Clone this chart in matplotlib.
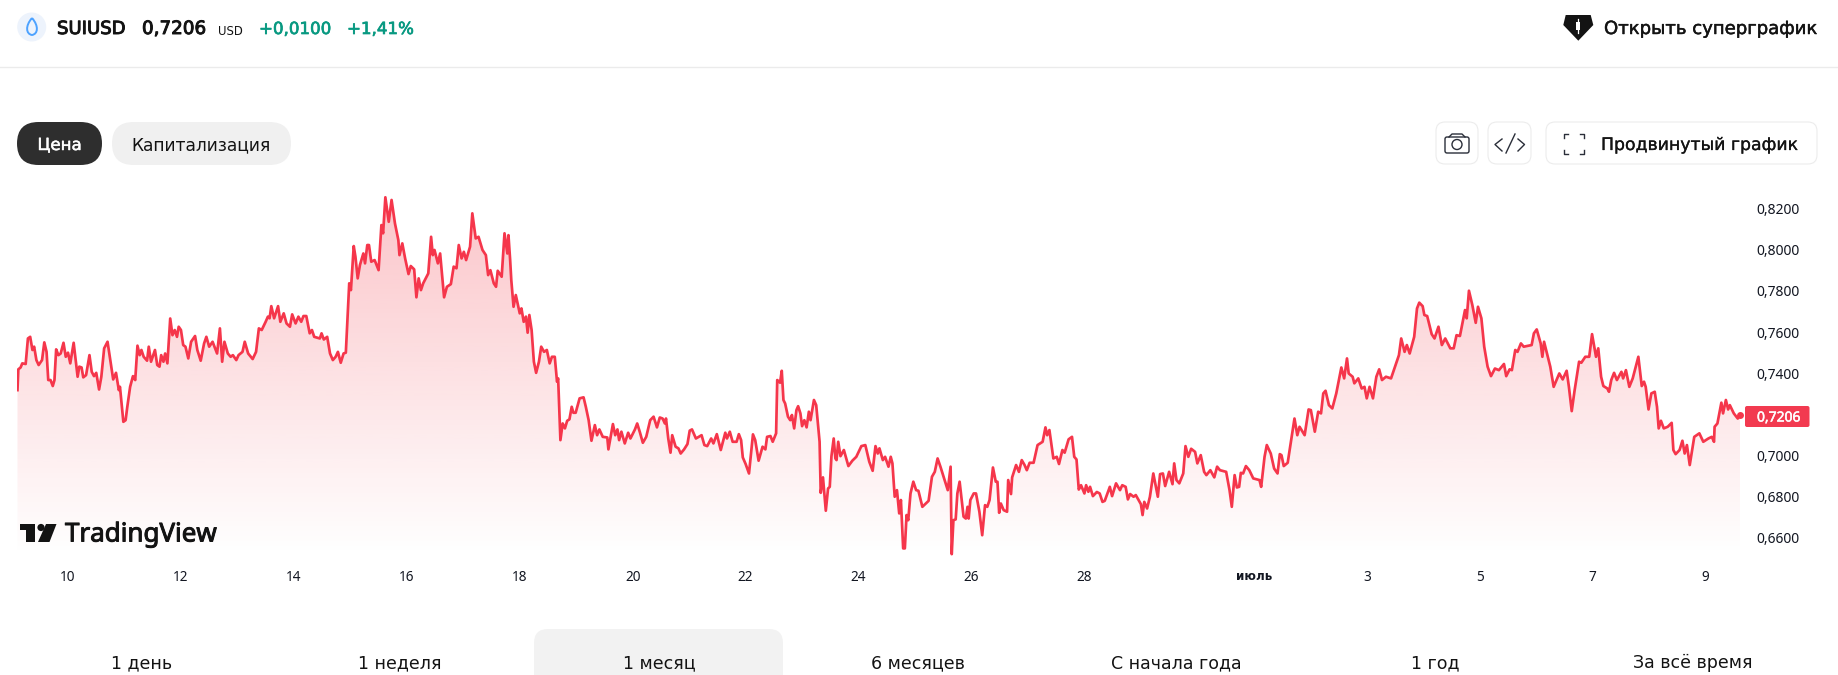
import numpy as np
import matplotlib
matplotlib.use("Agg")
import matplotlib.pyplot as plt
import matplotlib.patheffects as pe
from matplotlib.patches import FancyBboxPatch, Polygon, Circle, Rectangle, PathPatch
from matplotlib.path import Path
from matplotlib.transforms import ScaledTranslation

plt.rcParams['font.family'] = ['Noto Sans', 'DejaVu Sans']

# (day of the count starting in June, price); 1 July is day 31
prices_june_9_to_14 = [
(9.105,.7325),(9.12,.7426),(9.16,.7435),(9.19,.7455),(9.25,.7452),(9.29,.7576),(9.33,.7584),(9.37,.7520),(9.40,.7536),(9.44,.7471),
(9.48,.7447),(9.54,.7471),(9.58,.7557),(9.62,.7511),(9.65,.7374),(9.69,.7374),(9.73,.7345),(9.76,.7374),(9.79,.7523),(9.83,.7495),
(9.87,.7503),(9.92,.7555),(9.96,.7487),(10.00,.7507),(10.04,.7455),(10.10,.7555),(10.17,.7390),(10.20,.7439),(10.24,.7435),(10.27,.7387),
(10.32,.7398),(10.38,.7495),(10.42,.7414),(10.46,.7393),(10.50,.7409),(10.55,.7328),(10.59,.7390),(10.64,.7528),(10.70,.7560),(10.74,.7487),
(10.80,.7377),(10.85,.7409),(10.90,.7325),(10.92,.7341),(10.98,.7171),(11.02,.7179),(11.05,.7244),(11.10,.7341),(11.15,.7393),(11.19,.7374),
(11.23,.7541),(11.27,.7495),(11.30,.7520),(11.34,.7487),(11.40,.7468),(11.43,.7536),(11.47,.7463),(11.54,.7520),(11.58,.7447),(11.62,.7439),
(11.65,.7495),(11.69,.7463),(11.72,.7503),(11.76,.7455),(11.81,.7673),(11.85,.7592),(11.89,.7617),(11.93,.7584),(11.96,.7633),(12.00,.7617),
(12.04,.7544),(12.08,.7536),(12.13,.7479),(12.18,.7560),(12.25,.7588),(12.29,.7520),(12.35,.7468),(12.41,.7552),(12.45,.7584),(12.50,.7536),
(12.56,.7560),(12.64,.7503),(12.69,.7625),(12.73,.7463),(12.77,.7560),(12.83,.7503),(12.88,.7487),(12.92,.7495),(12.98,.7471),(13.02,.7495),
(13.09,.7511),(13.13,.7560),(13.19,.7503),(13.27,.7476),(13.33,.7511),(13.38,.7625),(13.43,.7617),(13.50,.7657),(13.54,.7682),(13.57,.7674),
(13.60,.7733),(13.65,.7674),(13.72,.7733),(13.76,.7657),(13.82,.7698),(13.87,.7649),(13.93,.7633),(13.97,.7693),(14.03,.7649),(14.08,.7682),
(14.13,.7657),(14.17,.7685),(14.22,.7685),(14.28,.7601),(14.32,.7617),(14.36,.7584),(14.46,.7576),(14.49,.7601),(14.53,.7571),(14.59,.7584),
(14.64,.7503),(14.69,.7471),(14.74,.7487),(14.78,.7511),(14.83,.7458),(14.88,.7503),(14.92,.7507),
]
prices_june_15_to_19 = [
(14.98,.7844),(15.01,.7811),(15.06,.8025),(15.09,.7973),(15.13,.7868),(15.17,.7933),(15.23,.7989),(15.26,.7941),(15.30,.8030),(15.33,.8030),
(15.37,.7949),(15.43,.7957),(15.50,.7908),(15.55,.8127),(15.58,.8087),(15.62,.8262),(15.68,.8143),(15.73,.8249),(15.79,.8135),(15.85,.8054),
(15.87,.7981),(15.92,.8038),(15.97,.7965),(16.03,.7889),(16.07,.7928),(16.13,.7912),(16.17,.7776),(16.21,.7868),(16.25,.7811),(16.29,.7844),
(16.38,.7892),(16.43,.8070),(16.46,.7981),(16.49,.8006),(16.55,.7941),(16.59,.7989),(16.66,.7776),(16.71,.7827),(16.78,.7840),(16.83,.7925),
(16.88,.7917),(16.92,.8030),(16.97,.7965),(17.01,.7997),(17.05,.7957),(17.12,.8022),(17.16,.8184),(17.22,.8062),(17.27,.8070),(17.34,.8006),
(17.40,.7981),(17.44,.7884),(17.48,.7908),(17.54,.7844),(17.58,.7827),(17.61,.7905),(17.68,.7876),(17.73,.8087),(17.78,.7989),(17.80,.8078),
(17.83,.7957),(17.85,.7860),(17.89,.7730),(17.93,.7787),(18.00,.7698),(18.03,.7722),(18.07,.7657),(18.11,.7682),(18.14,.7604),(18.17,.7690),
(18.21,.7617),(18.25,.7463),(18.29,.7409),(18.34,.7463),(18.38,.7536),(18.43,.7511),(18.48,.7520),(18.53,.7455),(18.57,.7487),(18.62,.7487),
(18.66,.7366),(18.68,.7382),(18.72,.7082),(18.76,.7163),(18.80,.7139),(18.84,.7176),(18.88,.7183),(18.92,.7244),(18.95,.7215),(18.99,.7215),
(19.06,.7285),(19.13,.7290),(19.17,.7244),(19.22,.7179),(19.27,.7079),(19.33,.7155),(19.37,.7106),(19.41,.7134),(19.47,.7098),(19.55,.7095),
(19.57,.7037),(19.65,.7160),(19.69,.7106),(19.73,.7134),
]
prices_june_20_to_24 = [
(19.76,.7082),(19.80,.7123),(19.86,.7066),(19.92,.7118),(19.96,.7090),(20.04,.7134),(20.08,.7163),(20.13,.7118),(20.18,.7069),(20.24,.7098),
(20.31,.7179),(20.37,.7196),(20.43,.7144),(20.48,.7192),(20.53,.7187),(20.57,.7163),(20.59,.7187),(20.63,.7090),(20.67,.7021),(20.70,.7106),
(20.76,.7050),(20.81,.7042),(20.85,.7017),(20.91,.7037),(20.97,.7063),(21.01,.7128),(21.05,.7134),(21.12,.7090),(21.22,.7106),(21.27,.7058),
(21.32,.7053),(21.39,.7090),(21.43,.7066),(21.49,.7111),(21.56,.7034),(21.64,.7118),(21.67,.7090),(21.72,.7123),(21.77,.7074),(21.84,.7074),
(21.88,.7111),(21.92,.7082),(21.95,.6998),(22.00,.6966),(22.06,.6920),(22.13,.7110),(22.17,.7082),(22.23,.6982),(22.30,.7050),(22.35,.7037),
(22.38,.7098),(22.44,.7102),(22.48,.7074),(22.54,.7115),(22.56,.7374),(22.61,.7361),(22.64,.7419),(22.67,.7277),(22.70,.7260),(22.75,.7196),
(22.79,.7179),(22.82,.7204),(22.86,.7139),(22.90,.7228),(22.93,.7247),(22.97,.7212),(23.00,.7150),(23.04,.7179),(23.08,.7144),(23.12,.7220),
(23.15,.7179),(23.21,.7277),(23.25,.7252),(23.31,.7074),(23.33,.6826),(23.37,.6901),(23.42,.6739),(23.46,.6847),(23.49,.6855),(23.52,.7004),
(23.56,.7090),(23.59,.6993),(23.61,.6985),(23.64,.7074),(23.68,.7004),(23.74,.7034),(23.82,.6956),(23.89,.6982),(23.96,.7001),(24.05,.7053),
(24.12,.7058),(24.19,.6977),(24.25,.6933),(24.30,.7053),(24.34,.7017),(24.37,.7042),(24.43,.6985),(24.47,.7001),(24.53,.6953),(24.57,.7001),
(24.60,.6969),(24.64,.6807),(24.68,.6839),(24.72,.6726),(24.75,.6791),(24.79,.6556),(24.82,.6556),(24.85,.6718),(24.88,.6693),(24.92,.6823),
(24.97,.6880),
]
prices_june_25_to_30 = [
(25.02,.6839),(25.06,.6836),(25.13,.6758),(25.24,.6787),(25.30,.6904),(25.35,.6928),(25.40,.6993),(25.45,.6953),(25.51,.6901),(25.58,.6839),
(25.63,.6953),(25.65,.6528),(25.68,.6693),(25.72,.6697),(25.75,.6823),(25.79,.6880),(25.86,.6710),(25.90,.6701),(25.93,.6758),(25.95,.6701),
(25.98,.6791),(26.04,.6823),(26.08,.6823),(26.14,.6734),(26.19,.6620),(26.24,.6766),(26.28,.6758),(26.32,.6791),(26.38,.6949),(26.43,.6880),
(26.46,.6880),(26.49,.6729),(26.52,.6774),(26.57,.6742),(26.63,.6734),(26.65,.6888),(26.70,.6820),(26.72,.6901),(26.79,.6961),(26.84,.6928),
(26.89,.6985),(26.94,.6961),(26.98,.6936),(27.03,.6972),(27.10,.6972),(27.17,.7058),(27.26,.7074),(27.31,.7144),(27.34,.7106),(27.38,.7131),
(27.45,.6993),(27.51,.7001),(27.55,.6966),(27.61,.7034),(27.65,.7021),(27.72,.7086),(27.78,.7098),(27.82,.7001),(27.86,.6988),(27.90,.6842),
(27.94,.6863),(28.00,.6823),(28.03,.6863),(28.07,.6831),(28.10,.6855),(28.15,.6810),(28.22,.6830),(28.27,.6823),(28.32,.6782),(28.36,.6787),
(28.45,.6855),(28.49,.6810),(28.56,.6872),(28.63,.6839),(28.67,.6863),(28.73,.6855),(28.77,.6794),(28.81,.6820),(28.87,.6807),(28.91,.6815),
(29.00,.6771),(29.03,.6718),(29.06,.6782),(29.11,.6750),(29.16,.6807),(29.22,.6920),(29.30,.6807),(29.34,.6917),(29.39,.6920),(29.43,.6859),
(29.50,.6928),(29.56,.6868),(29.59,.6969),(29.63,.6888),(29.68,.6872),(29.75,.6920),(29.79,.7053),(29.84,.7001),(29.89,.7040),(29.96,.7025),
(30.00,.6969),(30.06,.7009),(30.12,.6928),(30.16,.6912),(30.23,.6936),(30.30,.6901),(30.35,.6953),
]
prices_july_1_to_4 = [
(30.40,.6936),(30.51,.6928),(30.57,.6839),(30.61,.6758),(30.66,.6912),(30.70,.6852),(30.74,.6855),(30.77,.6923),(30.81,.6920),(30.86,.6956),
(30.92,.6936),(30.99,.6896),(31.10,.6888),(31.13,.6855),(31.19,.7001),(31.23,.7058),(31.30,.7017),(31.36,.6944),(31.42,.6920),(31.46,.7014),
(31.49,.7009),(31.53,.6956),(31.60,.6972),(31.67,.7098),(31.72,.7187),(31.77,.7106),(31.81,.7147),(31.90,.7106),(31.97,.7231),(32.01,.7228),
(32.08,.7123),(32.14,.7220),(32.19,.7212),(32.23,.7309),(32.27,.7322),(32.33,.7252),(32.39,.7236),(32.46,.7309),(32.55,.7435),(32.60,.7382),
(32.65,.7479),(32.68,.7406),(32.75,.7390),(32.78,.7358),(32.85,.7382),(32.91,.7333),(32.96,.7341),(33.00,.7285),(33.05,.7341),(33.11,.7285),
(33.17,.7390),(33.22,.7426),(33.27,.7374),(33.34,.7390),(33.43,.7382),(33.51,.7447),(33.57,.7495),(33.61,.7576),(33.67,.7511),(33.71,.7544),
(33.76,.7503),(33.84,.7584),(33.89,.7722),(33.93,.7750),(33.99,.7733),(34.02,.7690),(34.07,.7685),(34.15,.7597),(34.20,.7576),(34.27,.7633),
(34.33,.7544),(34.39,.7576),(34.48,.7528),(34.54,.7528),(34.59,.7592),(34.65,.7588),(34.74,.7714),(34.77,.7674),(34.81,.7808),(34.87,.7738),
(34.93,.7652),(34.97,.7730),
]
prices_july_5_to_9 = [
(35.03,.7674),(35.08,.7536),(35.14,.7439),(35.20,.7393),(35.27,.7430),(35.34,.7422),(35.43,.7452),(35.47,.7393),(35.53,.7426),(35.57,.7422),
(35.63,.7520),(35.67,.7511),(35.73,.7552),(35.78,.7536),(35.92,.7544),(35.96,.7601),(36.01,.7620),(36.08,.7552),(36.11,.7487),(36.14,.7560),
(36.25,.7439),(36.31,.7341),(36.41,.7406),(36.47,.7377),(36.54,.7419),(36.58,.7341),(36.63,.7223),(36.68,.7322),(36.76,.7463),(36.80,.7458),
(36.87,.7487),(36.94,.7487),(36.99,.7597),(37.06,.7487),(37.10,.7528),(37.15,.7390),(37.19,.7345),(37.26,.7333),(37.29,.7317),(37.33,.7374),
(37.38,.7409),(37.43,.7374),(37.51,.7414),(37.54,.7382),(37.59,.7422),(37.65,.7341),(37.71,.7382),(37.81,.7487),(37.87,.7345),(37.91,.7366),
(37.94,.7341),(37.99,.7231),(38.04,.7309),(38.10,.7317),(38.14,.7244),(38.17,.7139),(38.21,.7176),(38.26,.7139),(38.33,.7147),(38.40,.7166),
(38.43,.7034),(38.47,.7014),(38.54,.7034),(38.59,.7079),(38.63,.7017),(38.67,.7058),(38.72,.6961),(38.80,.7098),(38.89,.7115),(38.96,.7074),
(39.05,.7090),(39.11,.7098),(39.15,.7074),(39.16,.7147),(39.21,.7163),(39.28,.7264),(39.31,.7212),(39.36,.7277),(39.40,.7231),(39.43,.7252),
(39.50,.7212),(39.57,.7187),(39.61,.7206),
]

day_ticks = [10, 12, 14, 16, 18, 20, 22, 24, 26, 28, 31, 33, 35, 37, 39]
day_labels = ['10', '12', '14', '16', '18', '20', '22', '24', '26', '28', 'июль', '3', '5', '7', '9']
price_ticks = [0.66, 0.68, 0.70, 0.72, 0.74, 0.76, 0.78, 0.80, 0.82]
last_price = 0.7206
range_tabs = ['1 день', '1 неделя', '1 месяц', '6 месяцев', 'С начала года', '1 год', 'За всё время']

RED = '#f5364b'
DARK = '#131722'
INK = '#131313'
W, H = 1838, 675

fig = plt.figure(figsize=(W / 100, H / 100), dpi=100, facecolor='white')

# Price chart: 17..1740 px across, 180..556 px down
ax = fig.add_axes([17 / W, 1 - 556 / H, (1740 - 17) / W, (556 - 180) / H])
series = np.array(prices_june_9_to_14 + prices_june_15_to_19 + prices_june_20_to_24
                  + prices_june_25_to_30 + prices_july_1_to_4 + prices_july_5_to_9)
days, prices = series[:, 0], series[:, 1]
x0, x1 = 10 - 51 / 56.45, 39.61
y0, y1 = 0.6519, 0.8346

# Area under the line, fading to transparent towards the bottom
area = ax.fill_between(days, prices, y0, color='none', lw=0)
levels = np.linspace(1, 0, 256)[:, None]
rgba = np.zeros((256, 1, 4))
rgba[..., :3] = matplotlib.colors.to_rgb('#f23645')
rgba[..., 3] = levels * 0.29
img = ax.imshow(rgba, extent=[x0, x1, y0, prices.max()], aspect='auto', origin='upper', zorder=1)
img.set_clip_path(area.get_paths()[0], transform=ax.transData)

ax.plot(days, prices, color=RED, lw=1.95, zorder=3, solid_joinstyle='round')
ax.plot(days[-1], last_price, 'o', color=RED, ms=5, mew=0, zorder=4, clip_on=False)

ax.set_xlim(x0, x1)
ax.set_ylim(y0, y1)
for s in ax.spines.values():
    s.set_visible(False)
ax.patch.set_alpha(0)
ax.yaxis.tick_right()
ax.set_xticks(day_ticks)
ax.set_xticklabels(day_labels, fontsize=9.8, color=DARK)
ax.set_yticks(price_ticks)
ax.set_yticklabels([f'{v:.4f}'.replace('.', ',') for v in price_ticks], fontsize=10, color=DARK)
ax.tick_params(axis='x', length=0, pad=9.8)
ax.tick_params(axis='y', length=0, pad=12)
nudge_up = ScaledTranslation(0, 1.5 / 100, fig.dpi_scale_trans)
for t in ax.get_yticklabels():
    t.set_transform(t.get_transform() + nudge_up)
month_label = ax.get_xticklabels()[10]
month_label.set_family('DejaVu Sans')
month_label.set_fontweight('bold')
month_label.set_fontsize(8.6)

# Page furniture around the chart, in pixel coordinates
ui = fig.add_axes([0, 0, 1, 1], zorder=5)
ui.set_xlim(0, W)
ui.set_ylim(H, 0)
ui.axis('off')


def label(x, y, s, size, color=INK, weight='normal', ha='left', family='DejaVu Sans', stroke=0):
    t = ui.text(x, y, s, fontsize=size, color=color, fontweight=weight, ha=ha, va='center_baseline', family=family)
    if stroke:
        t.set_path_effects([pe.withStroke(linewidth=stroke, foreground=color)])
    return t


def pill(x0, y0, x1, y1, r, fc, ec='none', lw=0):
    ui.add_patch(FancyBboxPatch((x0 + r, y0 + r), x1 - x0 - 2 * r, y1 - y0 - 2 * r,
                                boxstyle=f'round,pad={r},rounding_size={r}',
                                fc=fc, ec=ec, lw=lw, mutation_aspect=1))


# Header row
ui.add_patch(Circle((31.7, 27), 14.5, fc='#edf3fc', ec='none'))
drop = Path([(32, 18), (25, 26), (26, 34), (32, 35), (38, 34), (39, 26), (32, 18)],
            [Path.MOVETO, Path.CURVE4, Path.CURVE4, Path.CURVE4, Path.CURVE4, Path.CURVE4, Path.CURVE4])
ui.add_patch(PathPatch(drop, fc='none', ec='#4da2ff', lw=1.4))
label(57, 27, 'SUIUSD', 13, stroke=0.7)
label(142, 27, '0,7206', 13.2, stroke=0.7)
label(218, 30, 'USD', 8.4)
label(259, 27, '+0,0100', 12, color='#089981', stroke=0.5)
label(347, 27, '+1,41%', 12, color='#089981', stroke=0.5)
ui.add_patch(Polygon([(1565.7, 15), (1590.7, 15), (1593.3, 25), (1578.3, 40.7), (1563.3, 25)], fc=INK, ec='none'))
ui.add_patch(Rectangle((1576.4, 22), 3.8, 8, fc='white', ec='none'))
ui.plot([1578.3, 1578.3], [19, 33], color='white', lw=0.9)
label(1604, 27, 'Открыть суперграфик', 13, stroke=0.35)
ui.plot([0, W], [67, 67], color='#ebebeb', lw=1)

# Chart type pills
pill(17, 122, 102, 165, 21.5, '#2e2e2e')
label(59.5, 143, 'Цена', 12, color='white', ha='center', stroke=0.35)
pill(112, 122, 291, 165, 21.5, '#f0f0f0')
label(201.5, 143, 'Капитализация', 12.3, ha='center')

# Toolbar buttons
pill(1436, 122, 1478, 164, 9, 'white', '#ececec', 0.8)
pill(1488, 122, 1531, 164, 9, 'white', '#ececec', 0.8)
pill(1546, 122, 1817, 164, 9, 'white', '#ececec', 0.8)
ui.add_patch(FancyBboxPatch((1445, 137), 24, 16, boxstyle='round,pad=0,rounding_size=2',
                            fc='none', ec='#2a2e39', lw=1))
ui.plot([1449, 1452, 1462, 1465], [137, 134, 134, 137], color='#2a2e39', lw=1)
ui.add_patch(Circle((1457, 144.5), 5, fc='none', ec='#2a2e39', lw=1))
ui.plot([1502, 1495, 1502], [139, 144.5, 151], color='#2a2e39', lw=1)
ui.plot([1515, 1506], [134, 153], color='#2a2e39', lw=1)
ui.plot([1518, 1524.5, 1518], [139, 144.5, 151], color='#2a2e39', lw=1)
for cx, sx in ((1563.5, 1), (1583.5, -1)):
    for cy, sy in ((134, 1), (153.5, -1)):
        ui.plot([cx, cx, cx + 4 * sx], [cy + 4 * sy, cy, cy], color='#2a2e39', lw=1)
label(1601, 143, 'Продвинутый график', 12.45, stroke=0.2)

# Broadcaster mark
ui.add_patch(Polygon([(20, 524), (35, 524), (35, 542), (26, 542), (26, 530), (20, 530)], fc=INK, ec='none'))
ui.add_patch(Circle((41, 527.5), 3.6, fc=INK, ec='none'))
ui.add_patch(Polygon([(46, 524), (56.5, 524), (49.5, 542), (38, 542)], fc=INK, ec='none'))
label(65, 532, 'TradingView', 18.7, family='Noto Sans', stroke=0.7)

# Last price badge
pill(1745, 406, 1809.5, 427, 2, '#f23a50')
label(1757, 416, f'{last_price:.4f}'.replace('.', ','), 10, color='white', family='Noto Sans', stroke=0.35)

# Range selector
tab = Path([(534, 675), (534, 643), (534, 629), (548, 629), (769, 629), (783, 629), (783, 643), (783, 675), (534, 675)],
           [Path.MOVETO, Path.LINETO, Path.CURVE3, Path.CURVE3, Path.LINETO, Path.CURVE3, Path.CURVE3, Path.LINETO, Path.CLOSEPOLY])
ui.add_patch(PathPatch(tab, fc='#f2f2f2', ec='none'))
for cx, s in zip([142, 400, 659, 918, 1176, 1435, 1693], range_tabs):
    label(cx, 661, s, 12.5, ha='center')

fig.savefig('out.png', dpi=100, facecolor='white')
